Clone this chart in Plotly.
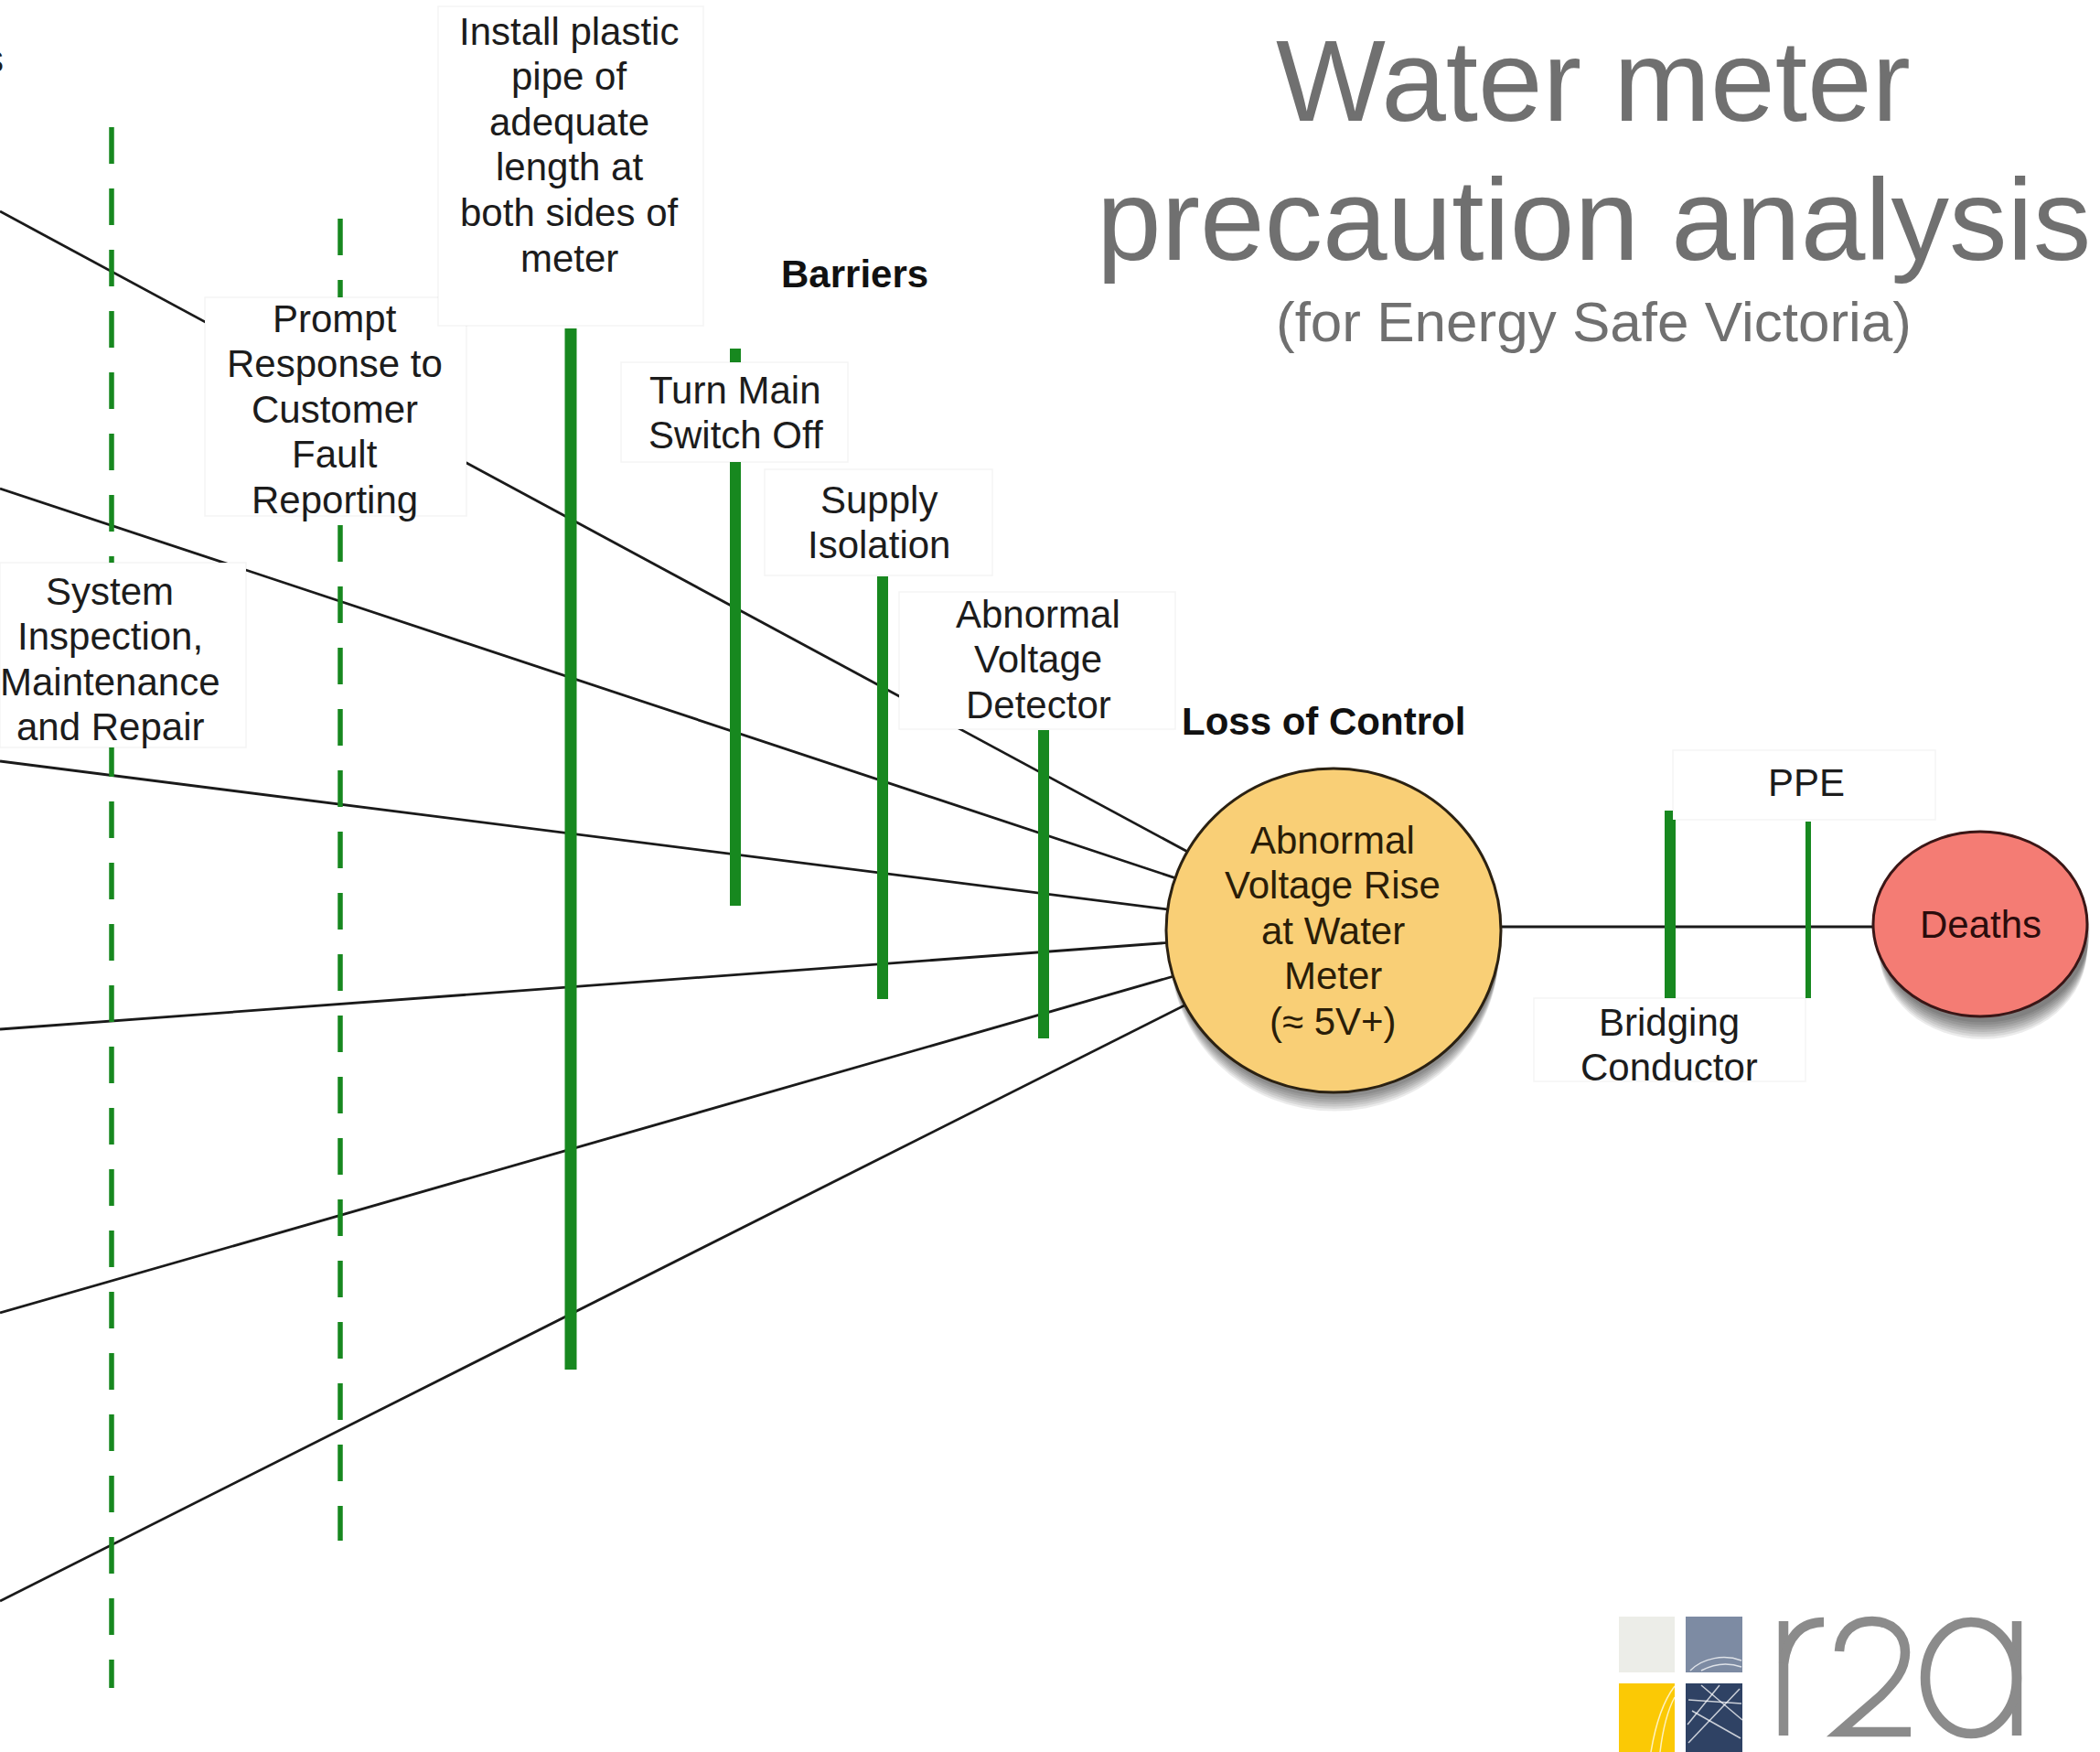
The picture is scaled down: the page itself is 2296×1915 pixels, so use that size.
import plotly.graph_objects as go

W, H = 2296, 1915
FONT = "Liberation Sans, Arial, Helvetica, sans-serif"

# ---------------- data ----------------
# threat lines: y at the left edge; all converge on the top event
threat_left_y = [231, 534, 832, 1125, 1435, 1750]

top_event_label = ["Abnormal", "Voltage Rise", "at Water", "Meter", "(\u2248 5V+)"]
top_event = dict(x=1458, y=1017, rx=183, ry=177)
consequence_label = ["Deaths"]
consequence = dict(x=2165, y=1010, rx=117, ry=101)
consequence_line_y = 1013

# barriers
barrier_lines = [
    ["System", "Inspection,", "Maintenance", "and Repair"],
    ["Prompt", "Response to", "Customer", "Fault", "Reporting"],
    ["Install plastic", "pipe of", "adequate", "length at", "both sides of", "meter"],
    ["Turn Main", "Switch Off"],
    ["Supply", "Isolation"],
    ["Abnormal", "Voltage", "Detector"],
    ["Bridging", "Conductor"],
    ["PPE"],
]
barrier_x = [122, 372, 624, 804, 965, 1141, 1826, 1977]
barrier_top = [139, 239, 359, 381, 630, 798, 886, 898]
barrier_bottom = [1845, 1684, 1497, 990, 1092, 1135, 1091, 1091]
barrier_dashed = [True, True, False, False, False, False, False, False]
# label boxes (x0, x1, y0, y1) and text anchor (centre x, first line y)
label_box = [
    (0, 269, 615, 817),
    (224, 510, 325, 564),
    (479, 769, 7, 356),
    (679, 927, 396, 505),
    (836, 1085, 513, 629),
    (983, 1285, 647, 797),
    (1677, 1974, 1091, 1182),
    (1829, 2116, 820, 896),
]
label_cx = [120, 366, 622, 804, 961, 1135, 1825, 1975]
label_y0 = [646, 348, 34, 426, 546, 671, 1117, 855]

title_lines = ["Water meter", "precaution analysis"]
subtitle = "(for Energy Safe Victoria)"
section_labels = ["Barriers", "Loss of Control"]

LINE_STEP = 49.6
GREEN = "#17881f"

fig = go.Figure()

# threat lines -> top event
for y0 in threat_left_y:
    fig.add_trace(go.Scatter(x=[0, top_event["x"]], y=[y0, top_event["y"]], mode="lines",
                             line=dict(color="#1a1a1a", width=2.8), hoverinfo="skip"))
# top event -> consequence
fig.add_trace(go.Scatter(x=[top_event["x"], consequence["x"]],
                         y=[consequence_line_y, consequence_line_y], mode="lines",
                         line=dict(color="#1a1a1a", width=2.8), hoverinfo="skip"))

# barriers
widths = [5.5, 5.5, 13, 12, 12, 12, 12, 6]
for bx, bt, bb, dsh, w in zip(barrier_x, barrier_top, barrier_bottom, barrier_dashed, widths):
    fig.add_trace(go.Scatter(x=[bx, bx], y=[bt, bb], mode="lines",
                             line=dict(color=GREEN, width=w, dash="40px,27px" if dsh else "solid"),
                             hoverinfo="skip"))

shapes = []
# label boxes (white, faint border) cover the lines behind them
for (x0, x1, y0, y1) in label_box:
    shapes.append(dict(type="rect", xref="x", yref="y", x0=x0, x1=x1, y0=y0, y1=y1,
                       fillcolor="white", line=dict(color="rgba(0,0,0,0.045)", width=1.5)))

def ellipse(c, fill, dx=0, dy=0, line=None, grow=0):
    return dict(type="circle", xref="x", yref="y",
                x0=c["x"] - c["rx"] + dx - grow, x1=c["x"] + c["rx"] + dx + grow,
                y0=c["y"] - c["ry"] + dy - grow, y1=c["y"] + c["ry"] + dy + grow,
                fillcolor=fill, line=line or dict(width=0))

# drop shadows
for k in range(1, 8):
    shapes.append(ellipse(top_event, "rgba(0,0,0,0.08)", dx=1, dy=3 + 3 * k, grow=-k * 0.5))
for k in range(1, 9):
    shapes.append(ellipse(consequence, "rgba(0,0,0,0.08)", dx=3, dy=4 + 3 * k, grow=-k * 0.4))
shapes.append(ellipse(top_event, "#f9cf76", line=dict(color="#2b2112", width=3)))
shapes.append(ellipse(consequence, "#f47c74", line=dict(color="#3a1616", width=3)))

# r2a logo
logo_sq = [(1770, 1831, 1767, 1828, "#ecede8"), (1843, 1905, 1767, 1828, "#7d8ba3"),
           (1770, 1831, 1840, 1915, "#fbc905"), (1843, 1905, 1840, 1915, "#2f4264")]
for x0, x1, y0, y1, c in logo_sq:
    shapes.append(dict(type="rect", xref="x", yref="y", x0=x0, x1=x1, y0=y0, y1=y1,
                       fillcolor=c, line=dict(width=0)))
tex = [
    "M1846,1905 L1902,1846", "M1850,1870 L1903,1900", "M1845,1885 L1880,1842",
    "M1860,1842 L1905,1880", "M1846,1858 L1904,1862",
    "M1805,1915 C1810,1885 1818,1860 1831,1843", "M1815,1915 C1818,1890 1824,1868 1831,1855",
    "M1848,1826 C1862,1812 1885,1808 1904,1815", "M1860,1826 C1875,1818 1890,1817 1904,1822",
]
for p in tex:
    shapes.append(dict(type="path", xref="x", yref="y", path=p,
                       line=dict(color="rgba(255,255,255,0.75)", width=1.5)))
logo_paths = [
    "M1950,1897 L1950,1772",
    "M1950,1818 C1954,1790 1968,1773 1994,1773",
    "M2011,1805 C2012,1783 2027,1772 2047,1772 C2068,1772 2083,1786 2083,1806 "
    "C2083,1826 2070,1840 2056,1854 L2011,1893 L2089,1893",
    "M2205,1772 L2205,1897",
]
for p in logo_paths:
    shapes.append(dict(type="path", xref="x", yref="y", path=p,
                       line=dict(color="#8b8b8b", width=10.5)))
shapes.append(dict(type="circle", xref="x", yref="y", x0=2105, x1=2205, y0=1773, y1=1895,
                   line=dict(color="#8b8b8b", width=10.5), fillcolor="rgba(0,0,0,0)"))

ann = []
def text(t, x, y, size=42, color="#1c1c1c", bold=False):
    ann.append(dict(x=x, y=y, xref="x", yref="y", text=f"<b>{t}</b>" if bold else t,
                    showarrow=False, xanchor="center", yanchor="middle",
                    font=dict(family=FONT, size=size, color=color)))

for lines, cx, y0 in zip(barrier_lines, label_cx, label_y0):
    for i, t in enumerate(lines):
        text(t, cx, y0 + i * LINE_STEP)
for i, t in enumerate(top_event_label):
    text(t, 1457, 918 + i * LINE_STEP, color="#2a1d08")
text(consequence_label[0], consequence["x"], consequence["y"], color="#2a0c0c")
text(section_labels[0], 934, 299, bold=True, color="#111111")
text(section_labels[1], 1447, 788, bold=True, color="#111111")
text(title_lines[0], 1742, 88, size=127, color="#707070")
text(title_lines[1], 1742, 240, size=127, color="#707070")
text(subtitle, 1742, 351, size=62, color="#707070")
ann.append(dict(x=6, y=64, xref="x", yref="y", text="s", showarrow=False,
                xanchor="right", yanchor="middle", font=dict(family=FONT, size=42, color="#1c1c1c")))

fig.update_layout(
    width=W, height=H, margin=dict(l=0, r=0, t=0, b=0),
    paper_bgcolor="white", plot_bgcolor="white", showlegend=False, hovermode=False,
    xaxis=dict(range=[0, W], visible=False, fixedrange=True),
    yaxis=dict(range=[H, 0], visible=False, fixedrange=True),
    shapes=shapes, annotations=ann,
)
fig.write_html("out.html", config={"displayModeBar": False},
               post_script="document.body.style.margin='0';document.body.style.overflow='hidden';")
